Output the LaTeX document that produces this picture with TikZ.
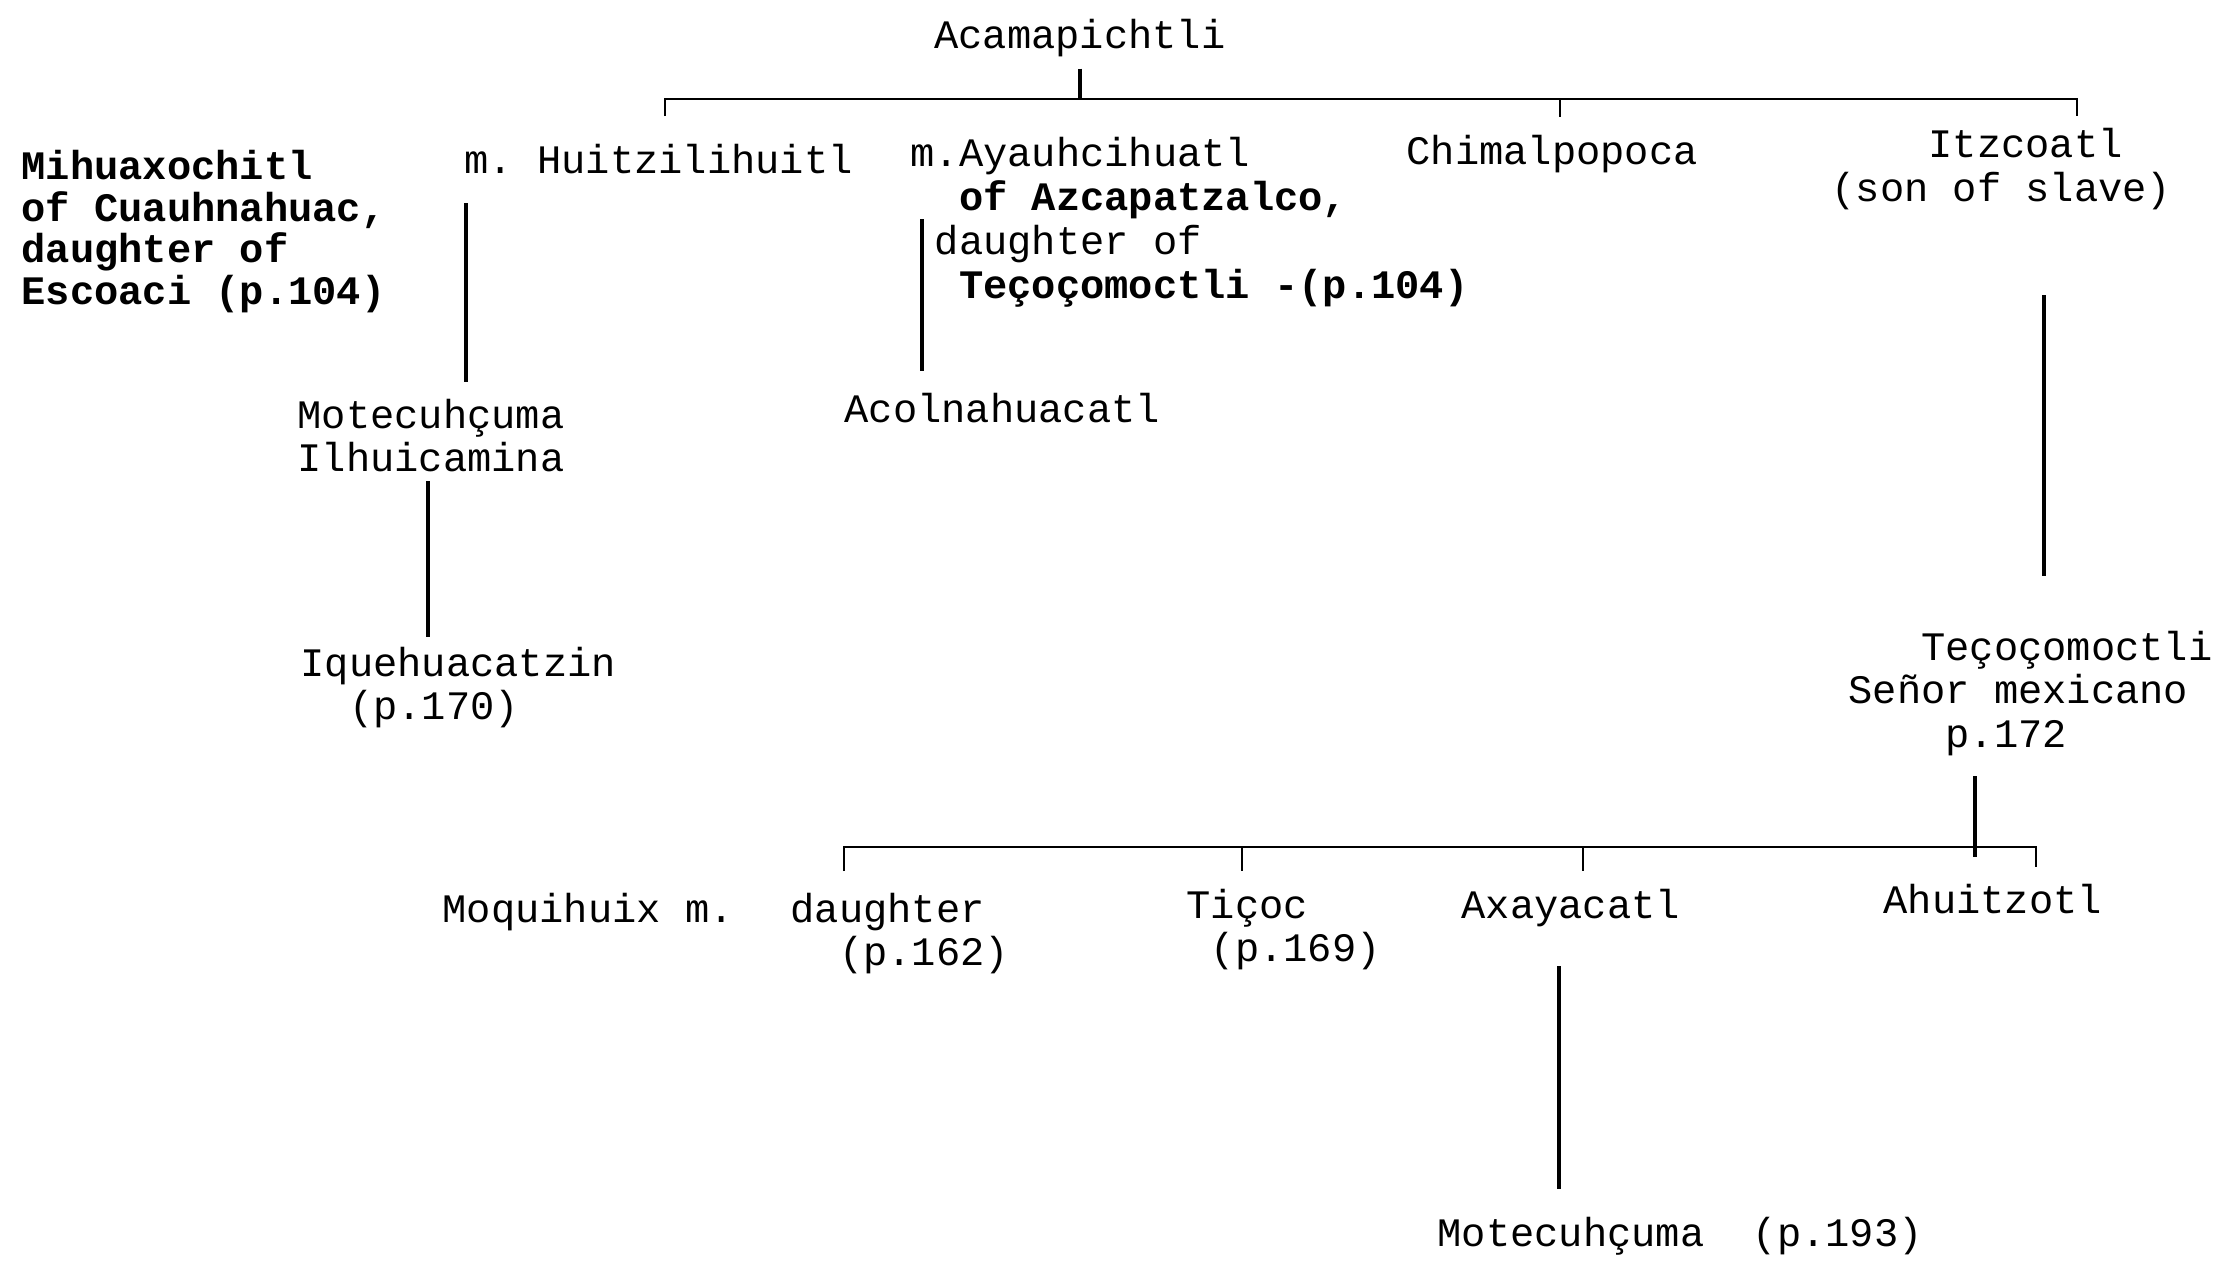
\documentclass[tikz,border=0pt]{standalone}
\usepackage{fontspec}
\usepackage{tikz}
\usetikzlibrary{calc}
\newfontfamily\typer{Liberation Mono}
\newcommand{\gap}[1]{\phantom{#1}}
\frenchspacing

\begin{document}
\begin{tikzpicture}[
    person/.style={anchor=north west,inner sep=0pt,align=left,
      font=\typer\fontsize{11.5}{12.5}\selectfont},
    heavy/.style={person,font=\typer\bfseries\fontsize{11.5}{11.8}\selectfont},
    vline/.style={line width=0.9pt},
    bar/.style={line width=0.55pt}]
        \useasboundingbox (0,0) rectangle (22.20,-12.61);

        % first generation
        \node[person,anchor=north] (aca) at (10.80,-0.19) {Acamapichtli};

        \node[heavy] (mih) at (0.21,-1.50) {Mihuaxochitl\\of Cuauhnahuac,\\daughter of\\Escoaci (p.104)};
        \node[person] (hui) at (4.64,-1.44) {m. Huitzilihuitl};
        \node[person] (aya) at (9.10,-1.37) {m.Ayauhcihuatl\\\gap{xx}{\bfseries of Azcapatzalco,}\\\gap{x}daughter of\\\gap{xx}{\bfseries Teçoçomoctli -(p.104)}};
        \node[person] (chi) at (14.06,-1.35) {Chimalpopoca};
        \node[person] (itz) at (18.31,-1.28) {\gap{xxxx}Itzcoatl\\(son of slave)};

        \coordinate (acabar) at (10.80,-0.99);
        \coordinate (barw) at (6.65,-0.99);
        \coordinate (barc) at (15.60,-0.99);
        \coordinate (bare) at (20.77,-0.99);
        \draw[vline] ([yshift=-3pt]aca.south) -- (acabar);
        \draw[bar] ($(barw)+(0,-0.17)$) -- (barw) -- (bare) -- ++(0,-0.17);
        \draw[bar] (barc) -- ++(0,-0.18);

        % second generation
        \node[person] (mot) at (2.97,-3.98) {Motecuhçuma\\Ilhuicamina};
        \node[person] (aco) at (8.44,-3.93) {Acolnahuacatl};
        \node[person] (iqu) at (3.00,-6.46) {Iquehuacatzin\\\gap{xx}(p.170)};
        \node[person] (tez) at (18.48,-6.30) {\gap{xxx}Teçoçomoctli\\Señor mexicano\\\gap{xxxx}p.172};

        \coordinate (hui1) at (4.66,-2.03);
        \coordinate (hui2) at (4.66,-3.82);
        \coordinate (aya1) at (9.22,-2.19);
        \coordinate (aya2) at (9.22,-3.71);
        \coordinate (mot1) at (4.28,-4.81);
        \coordinate (mot2) at (4.28,-6.37);
        \coordinate (itz1) at (20.44,-2.95);
        \coordinate (itz2) at (20.44,-5.76);
        \draw[vline] (hui1) -- (hui2);
        \draw[vline] (aya1) -- (aya2);
        \draw[vline] (mot1) -- (mot2);
        \draw[vline] (itz1) -- (itz2);

        % third generation
        \node[person] (moq) at (4.42,-8.92) {Moquihuix m.};
        \node[person] (dau) at (7.90,-8.92) {daughter\\\gap{xx}(p.162)};
        \node[person] (tiz) at (11.86,-8.88) {Tiçoc\\\gap{x}(p.169)};
        \node[person] (axa) at (14.61,-8.88) {Axayacatl};
        \node[person] (ahu) at (18.83,-8.83) {Ahuitzotl};
        \node[person] (mo2) at (14.37,-12.16) {Motecuhçuma\gap{xx}(p.193)};

        \coordinate (tez1) at (19.75,-7.76);
        \coordinate (lowbar) at (19.75,-8.47);
        \coordinate (lbw) at (8.44,-8.47);
        \coordinate (lbt) at (12.42,-8.47);
        \coordinate (lba) at (15.83,-8.47);
        \coordinate (lbe) at (20.36,-8.47);
        \draw[vline] (tez1) -- ($(lowbar)+(0,-0.10)$);
        \draw[bar] ($(lbw)+(0,-0.24)$) -- (lbw) -- (lbe) -- ++(0,-0.20);
        \draw[bar] (lbt) -- ++(0,-0.24);
        \draw[bar] (lba) -- ++(0,-0.24);

        \coordinate (axa1) at (15.59,-9.66);
        \coordinate (axa2) at (15.59,-11.89);
        \draw[vline] (axa1) -- (axa2);
\end{tikzpicture}
\end{document}
